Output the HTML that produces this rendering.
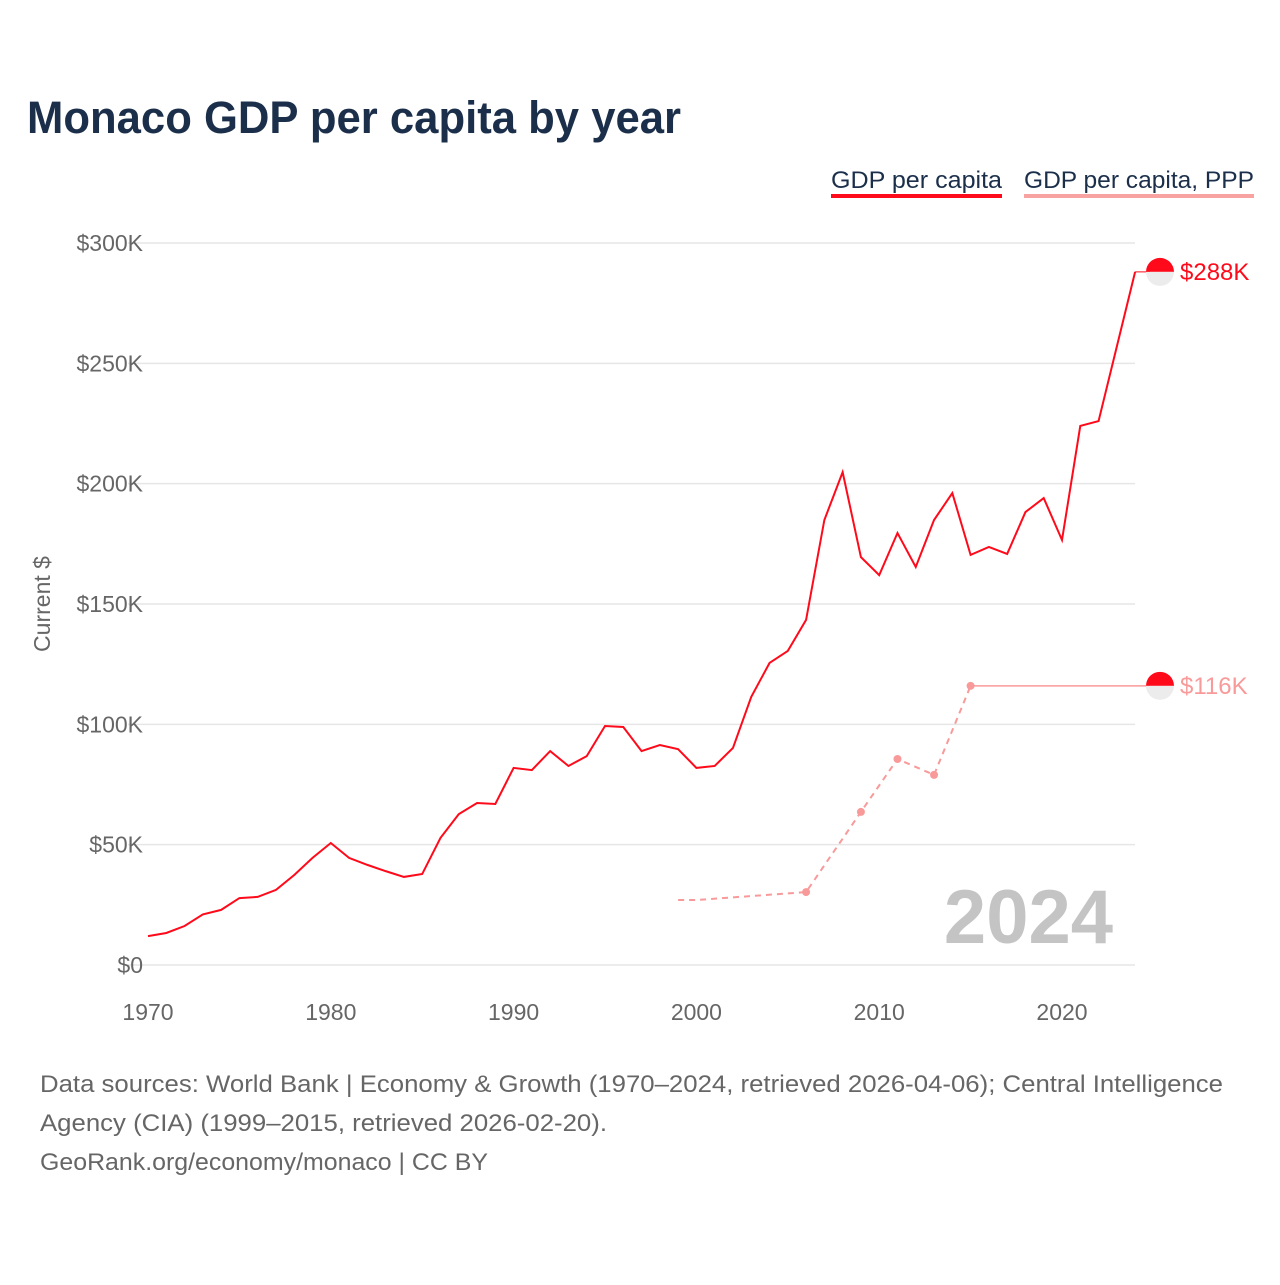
<!DOCTYPE html>
<html><head><meta charset="utf-8"><style>
body{margin:0;background:#fff;font-family:"Liberation Sans",sans-serif;}
#wrap{position:relative;width:1280px;height:1280px;}
</style></head><body>
<div id="wrap">
<svg id="chart" width="1280" height="1280" xmlns="http://www.w3.org/2000/svg">
<text x="27" y="133" font-size="45" font-weight="bold" fill="#1b2f4b" textLength="654" lengthAdjust="spacingAndGlyphs">Monaco GDP per capita by year</text>
<g><text x="831" y="188" font-size="24" fill="#1b2f4b" textLength="171" lengthAdjust="spacingAndGlyphs">GDP per capita</text><rect x="831" y="194" width="171" height="4" fill="#ff0a1a"/></g>
<g><text x="1024" y="188" font-size="24" fill="#1b2f4b" textLength="230" lengthAdjust="spacingAndGlyphs">GDP per capita, PPP</text><rect x="1024" y="194" width="230" height="4" fill="#f9a2a2"/></g>
<text transform="translate(50,604) rotate(-90)" text-anchor="middle" font-size="23" fill="#666">Current $</text>
<g id="grid"></g><g id="xt"></g><g id="series"></g>
<text x="1113" y="943" text-anchor="end" font-size="76" font-weight="bold" fill="#c4c4c4">2024</text>
<text x="40" y="1092" font-size="24" fill="#666" textLength="1183" lengthAdjust="spacingAndGlyphs">Data sources: World Bank | Economy &amp; Growth (1970–2024, retrieved 2026-04-06); Central Intelligence</text>
<text x="40" y="1131" font-size="24" fill="#666" textLength="567" lengthAdjust="spacingAndGlyphs">Agency (CIA) (1999–2015, retrieved 2026-02-20).</text>
<text x="40" y="1170" font-size="24" fill="#666" textLength="448" lengthAdjust="spacingAndGlyphs">GeoRank.org/economy/monaco | CC BY</text>
</svg></div>
<script>
const years=[];for(let y=1970;y<=2024;y++)years.push(y);
const gdp=[12,13.3,16.2,21,22.9,27.8,28.3,31.2,37.4,44.5,50.7,44.5,41.6,39,36.6,37.8,52.8,62.7,67.3,66.9,81.9,81,88.9,82.7,86.8,99.3,98.9,88.9,91.4,89.7,81.9,82.7,90.2,111.4,125.5,130.5,143.4,184.9,204.8,169.5,162,179.5,165.4,184.9,196.1,170.4,173.7,170.8,188.2,194,176.6,224,226,257,288];
const pppYears=[1999,2000,2006,2009,2011,2013,2015];
const ppp=[27,27,30.3,63.6,85.6,79,116];
const yTicks=[0,50,100,150,200,250,300];
const xTicks=[1970,1980,1990,2000,2010,2020];
const X=y=>148+(y-1970)*18.28, Y=v=>965-v*722/300;
const NS="http://www.w3.org/2000/svg";
function mk(tag,a,p){const e=document.createElementNS(NS,tag);for(const k in a)e.setAttribute(k,a[k]);p.appendChild(e);return e;}
const g=document.getElementById('grid');
yTicks.forEach(v=>{
 const l=mk('line',{x1:128,x2:1135,y1:Y(v),y2:Y(v),stroke:'#e6e6e6','stroke-width':1.5},g);
 
 
 const t=mk('text',{x:143,y:Y(v)+8,'text-anchor':'end','font-size':23,fill:'#666'},g);t.textContent='$'+v+(v?'K':'');
 
 
});
const xt=document.getElementById('xt');
xTicks.forEach(v=>{const t=mk('text',{x:X(v),y:1020,'text-anchor':'middle','font-size':23,fill:'#666'},xt);t.textContent=v;
 
 });
const s=document.getElementById('series');
const p1=mk('polyline',{points:years.map((y,i)=>X(y)+','+Y(gdp[i])).join(' '),fill:'none',stroke:'#ff0a1a','stroke-width':2},s);


const last=gdp[gdp.length-1];
mk('line',{x1:X(2024),x2:1150,y1:Y(last),y2:Y(last),stroke:'#ff0a1a','stroke-width':1},s);
const p2=mk('polyline',{points:pppYears.map((y,i)=>X(y)+','+Y(ppp[i])).join(' '),fill:'none',stroke:'#f99a9a','stroke-width':2,'stroke-dasharray':'6,5'},s);


pppYears.forEach((y,i)=>{if(i<2)return;const c=mk('circle',{cx:X(y),cy:Y(ppp[i]),r:4,fill:'#f99a9a'},s);
 
 });
const lp=ppp[ppp.length-1];
mk('line',{x1:X(2015),x2:1150,y1:Y(lp),y2:Y(lp),stroke:'#f99a9a','stroke-width':1.5},s);
function flag(cy,label,col,name){
 const gg=mk('g',{},s);
 
 
 mk('path',{d:`M1146,${cy} a14,14 0 0 1 28,0 z`,fill:'#ff0a1a'},gg);
 mk('path',{d:`M1146,${cy} a14,14 0 0 0 28,0 z`,fill:'#ececec'},gg);
 const t=mk('text',{x:1180,y:cy+8,'font-size':24,fill:col},gg);t.textContent=label;
}
flag(Y(last),'$'+last+'K','#ff0a1a','gdp-end-label');
flag(Y(lp),'$'+lp+'K','#f99a9a','ppp-end-label');
</script>
</body></html>
